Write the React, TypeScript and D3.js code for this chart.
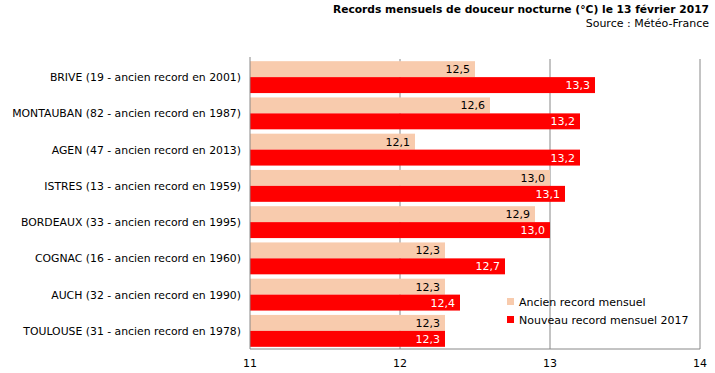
import React from "react";
import * as d3 from "d3";

const categories = [
  "BRIVE (19 - ancien record en 2001)",
  "MONTAUBAN (82 - ancien record en 1987)",
  "AGEN (47 - ancien record en 2013)",
  "ISTRES (13 - ancien record en 1959)",
  "BORDEAUX (33 - ancien record en 1995)",
  "COGNAC (16 - ancien record en 1960)",
  "AUCH (32 - ancien record en 1990)",
  "TOULOUSE (31 - ancien record en 1978)",
];
const ancien = [12.5, 12.6, 12.1, 13.0, 12.9, 12.3, 12.3, 12.3];
const nouveau = [13.3, 13.2, 13.2, 13.1, 13.0, 12.7, 12.4, 12.3];
const xTicks = [11, 12, 13, 14];
const seriesNames = ["Ancien record mensuel", "Nouveau record mensuel 2017"];
const colors = ["#F8CBAD", "#FF0000"];

const W = 715;
const H = 373;
const FONT = "'DejaVu Sans', Verdana, sans-serif";

export default function App() {
  const left = 250, right = 700, top = 59, bottom = 349;
  const x = d3.scaleLinear().domain([11, 14]).range([left, right]);
  const y = d3.scaleBand<string>().domain(categories).range([top, bottom]).paddingInner(0.12).paddingOuter(0.06);
  const sub = d3.scaleBand<number>().domain([0, 1]).range([0, y.bandwidth()]);
  const fmt = (v: number) => v.toFixed(1).replace(".", ",");

  return (
    <svg width={W} height={H} style={{ position: "absolute", left: 0, top: 0, background: "#fff" }} fontFamily={FONT}>
      <text x={709} y={13} textAnchor="end" fontSize={10.7} fontWeight="bold" fill="#000">
        Records mensuels de douceur nocturne (°C) le 13 février 2017
      </text>
      <text x={709} y={27} textAnchor="end" fontSize={11} fill="#000">
        Source : Météo-France
      </text>
      {xTicks.slice(1).map((t) => (
        <line key={t} x1={x(t)} x2={x(t)} y1={top} y2={bottom} stroke="#888" strokeWidth={1} />
      ))}
      {categories.map((c, i) => {
        const yy = y(c)!;
        return (
          <g key={c}>
            {[ancien[i], nouveau[i]].map((v, s) => (
              <g key={s}>
                <rect x={x(11)} y={yy + sub(s)!} width={x(v) - x(11)} height={sub.bandwidth()} fill={colors[s]} />
                <text x={x(v) - 5} y={yy + sub(s)! + sub.bandwidth() / 2 + 4} textAnchor="end" fontSize={11} fill={s === 0 ? "#000" : "#fff"}>
                  {fmt(v)}
                </text>
              </g>
            ))}
            <text x={241} y={yy + y.bandwidth() / 2 + 4} textAnchor="end" fontSize={10.85} fill="#000">
              {c}
            </text>
          </g>
        );
      })}
      <line x1={left} x2={left} y1={top - 2} y2={bottom} stroke="#888" />
      <line x1={left} x2={right} y1={bottom} y2={bottom} stroke="#888" />
      {xTicks.map((t) => (
        <text key={t} x={x(t)} y={367} textAnchor="middle" fontSize={11} fill="#000">
          {t}
        </text>
      ))}
      {seriesNames.map((n, s) => (
        <g key={n}>
          <rect x={507} y={298 + s * 18} width={7} height={7} fill={colors[s]} />
          <text x={519} y={306 + s * 18} fontSize={11} fill="#000">{n}</text>
        </g>
      ))}
    </svg>
  );
}
